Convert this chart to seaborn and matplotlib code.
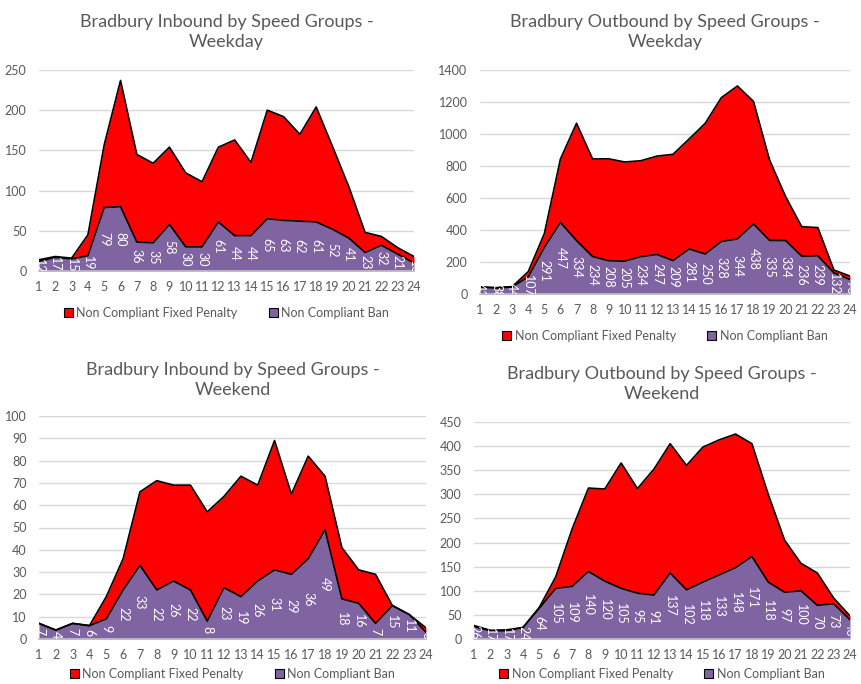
import matplotlib
matplotlib.use("Agg")
import matplotlib.pyplot as plt
import seaborn as sns
import pandas as pd
from matplotlib.patches import Patch

# hours of the day
hours = list(range(1, 25))

# Inbound weekday
in_wd_ban = [12, 17, 15, 19, 79, 80, 36, 35, 58, 30, 30, 61, 44, 44, 65, 63, 62, 61, 52, 41, 23, 32, 21, 10]
in_wd_fixed = [2, 1, 1, 26, 78, 157, 109, 99, 96, 92, 81, 93, 119, 91, 135, 129, 108, 143, 103, 64, 25, 11, 8, 8]

# Outbound weekday
out_wd_ban = [42, 38, 44, 107, 291, 447, 334, 234, 208, 205, 234, 247, 209, 281, 250, 328, 344, 438, 335, 334, 236, 239, 132, 90]
out_wd_fixed = [3, 2, 2, 33, 87, 397, 733, 610, 637, 620, 599, 615, 664, 688, 817, 899, 956, 766, 503, 274, 185, 176, 18, 22]

# Inbound weekend
in_we_ban = [7, 4, 7, 6, 9, 22, 33, 22, 26, 22, 8, 23, 19, 26, 31, 29, 36, 49, 18, 16, 7, 15, 11, 3]
in_we_fixed = [0, 0, 0, 0, 10, 14, 33, 49, 43, 47, 49, 41, 54, 43, 58, 36, 46, 24, 23, 15, 22, 0, 0, 2]

# Outbound weekend
out_we_ban = [26, 17, 17, 24, 64, 105, 109, 140, 120, 105, 95, 91, 137, 102, 118, 133, 148, 171, 118, 97, 100, 70, 73, 40]
out_we_fixed = [2, 1, 2, 0, 2, 24, 119, 173, 191, 260, 217, 261, 268, 258, 280, 280, 277, 234, 182, 108, 57, 67, 12, 8]

sns.set_theme(style="white")
plt.rcParams['font.family'] = ['Lato', 'DejaVu Sans']

RED = '#FF0000'
PURPLE = '#8064A2'
GREY = '#595959'

W, H = 861, 684
fig = plt.figure(figsize=(W / 100, H / 100), dpi=100)


def panel(box, title, title_y, ban, fixed, ymax, ystep, legend_y):
    x0, x1, ytop, ybot = box
    ax = fig.add_axes([x0 / W, 1 - ybot / H, (x1 - x0) / W, (ybot - ytop) / H])
    df = pd.DataFrame({'hour': hours, 'ban': ban, 'fixed': fixed})
    df['total'] = df['ban'] + df['fixed']

    ax.fill_between(df['hour'], df['ban'], df['total'], color=RED, lw=0)
    ax.fill_between(df['hour'], 0, df['ban'], color=PURPLE, lw=0)
    sns.lineplot(data=df, x='hour', y='total', color='black', lw=1.2, ax=ax)
    sns.lineplot(data=df, x='hour', y='ban', color='black', lw=1.2, ax=ax)

    # data labels for the ban series
    for h, v in zip(df['hour'], df['ban']):
        ax.text(h, v / 2, str(v), rotation=270, ha='center', va='center',
                color='white', fontsize=9, clip_on=True)

    ax.set_xlim(1, 24)
    ax.set_ylim(0, ymax)
    ax.set_xticks(hours)
    ax.set_yticks(range(0, ymax + 1, ystep))
    ax.grid(axis='y', color='#D9D9D9', lw=1)
    ax.set_axisbelow(True)
    for s in ['top', 'right', 'left']:
        ax.spines[s].set_visible(False)
    ax.spines['bottom'].set_color('#BFBFBF')
    ax.tick_params(axis='both', colors=GREY, labelsize=9, length=0)
    ax.tick_params(axis='x', pad=7)
    ax.tick_params(axis='y', pad=9)
    ax.set_xlabel('')
    ax.set_ylabel('')

    cx = (x0 + x1) / 2
    fig.text(cx / W, 1 - title_y / H, title, ha='center', va='center',
             fontsize=13, color=GREY, linespacing=1.3)

    handles = [Patch(facecolor=RED, edgecolor='black', lw=0.8),
               Patch(facecolor=PURPLE, edgecolor='black', lw=0.8)]
    fig.legend(handles, ['Non Compliant Fixed Penalty', 'Non Compliant Ban'],
               loc='center', bbox_to_anchor=(cx / W, 1 - legend_y / H), ncol=2,
               frameon=False, fontsize=9, handlelength=0.7, handleheight=0.7,
               handletextpad=0.3, columnspacing=2.5, labelcolor=GREY)


panel((39, 414, 70, 271), 'Bradbury Inbound by Speed Groups -\nWeekday', 32,
      in_wd_ban, in_wd_fixed, 250, 50, 313)
panel((480, 850, 70, 294), 'Bradbury Outbound by Speed Groups -\nWeekday', 32,
      out_wd_ban, out_wd_fixed, 1400, 200, 336)
panel((39, 426, 416, 639), 'Bradbury Inbound by Speed Groups -\nWeekend', 380,
      in_we_ban, in_we_fixed, 100, 10, 674)
panel((474, 850, 422, 639), 'Bradbury Outbound by Speed Groups -\nWeekend', 384,
      out_we_ban, out_we_fixed, 450, 50, 674)

fig.savefig('out.png', dpi=100)
